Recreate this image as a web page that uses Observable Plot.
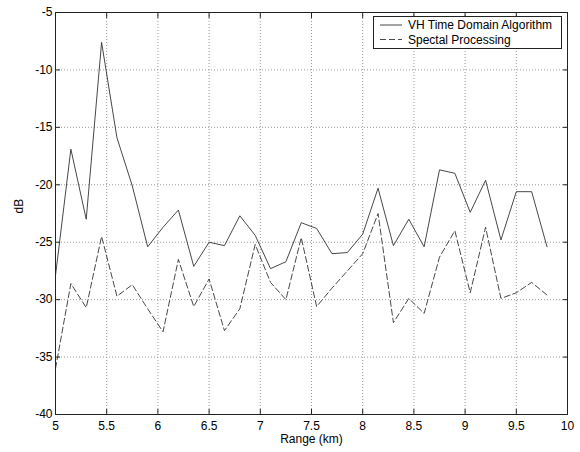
<!DOCTYPE html>
<html>
<head>
<meta charset="utf-8">
<script src="https://cdn.jsdelivr.net/npm/d3@7"></script>
<script src="https://cdn.jsdelivr.net/npm/@observablehq/plot@0.6"></script>
<style>
  html, body { margin: 0; padding: 0; background: #fff; }
  #chart svg { display: block; }
</style>
</head>
<body>
<div id="chart"></div>
<script>
const seriesNames = ["VH Time Domain Algorithm", "Spectal Processing"];
const range = [5.00, 5.15, 5.30, 5.45, 5.60, 5.75, 5.90, 6.05, 6.20, 6.35, 6.50,
               6.65, 6.80, 6.95, 7.10, 7.25, 7.40, 7.55, 7.70, 7.85, 8.00, 8.15,
               8.30, 8.45, 8.60, 8.75, 8.90, 9.05, 9.20, 9.35, 9.50, 9.65, 9.80];
const vhTimeDomain = [-27.9, -16.9, -23.0, -7.6, -15.9, -20.1, -25.4, -23.7, -22.2, -27.1, -25.0,
                      -25.3, -22.7, -24.4, -27.3, -26.7, -23.3, -23.8, -26.0, -25.9, -24.3, -20.3,
                      -25.3, -23.0, -25.4, -18.7, -19.0, -22.4, -19.6, -24.8, -20.6, -20.6, -25.4];
const spectral = [-36.0, -28.6, -30.7, -24.5, -29.7, -28.7, -30.8, -32.8, -26.5, -30.6, -28.2,
                  -32.7, -30.8, -25.2, -28.5, -30.0, -24.6, -30.6, -29.0, -27.5, -26.0, -22.5,
                  -32.0, -29.9, -31.2, -26.3, -24.0, -29.4, -23.7, -29.9, -29.4, -28.5, -29.6];
const xTicks = [5, 5.5, 6, 6.5, 7, 7.5, 8, 8.5, 9, 9.5, 10];
const yTicks = [-40, -35, -30, -25, -20, -15, -10, -5];
const xLabel = "Range (km)";
const yLabel = "dB";

const vhData = range.map((r, i) => ({range: r, db: vhTimeDomain[i]}));
const spData = range.map((r, i) => ({range: r, db: spectral[i]}));
const fmt = d => String(d);
const ink = "#222";

const plot = Plot.plot({
  width: 580,
  height: 452,
  marginLeft: 55,
  marginRight: 13,
  marginTop: 12,
  marginBottom: 38,
  style: {fontFamily: "'Liberation Sans', Arial, sans-serif", fontSize: "12px", color: "#000", background: "#fff"},
  x: {domain: [5, 10]},
  y: {domain: [-40, -5]},
  marks: [
    Plot.gridX(xTicks, {stroke: "#999", strokeOpacity: 1, strokeDasharray: "1,2"}),
    Plot.gridY(yTicks, {stroke: "#999", strokeOpacity: 1, strokeDasharray: "1,2"}),
    // inward tick marks on all four sides
    Plot.axisX(xTicks, {anchor: "bottom", tickSize: 5, dy: -5, tickFormat: () => "", label: null, stroke: ink}),
    Plot.axisX(xTicks, {anchor: "top", tickSize: 5, dy: 5, tickFormat: () => "", label: null, stroke: ink}),
    Plot.axisY(yTicks, {anchor: "left", tickSize: 5, dx: 5, tickFormat: () => "", label: null, stroke: ink}),
    Plot.axisY(yTicks, {anchor: "right", tickSize: 5, dx: -5, tickFormat: () => "", label: null, stroke: ink}),
    // tick labels
    Plot.axisX(xTicks, {anchor: "bottom", tickSize: 0, tickPadding: 7, tickFormat: fmt, label: null}),
    Plot.axisY(yTicks, {anchor: "left", tickSize: 0, tickPadding: 3, tickFormat: fmt, label: null}),
    Plot.text([xLabel], {frameAnchor: "bottom", dy: 28, text: d => d, fill: "#000"}),
    Plot.text([yLabel], {frameAnchor: "left", dx: -36, rotate: -90, text: d => d, fill: "#000"}),
    Plot.line(vhData, {x: "range", y: "db", stroke: "#333", strokeWidth: 0.9}),
    Plot.line(spData, {x: "range", y: "db", stroke: "#333", strokeWidth: 0.9, strokeDasharray: "6,3"}),
    Plot.frame({stroke: ink, strokeWidth: 1})
  ]
});
document.getElementById("chart").appendChild(plot);

// legend box inside the plot area (top-right)
const svg = d3.select(plot);
const lg = svg.append("g")
  .attr("font-family", "'Liberation Sans', Arial, sans-serif")
  .attr("font-size", 12)
  .attr("text-anchor", "start");
lg.append("rect").attr("x", 373.5).attr("y", 16.5).attr("width", 188).attr("height", 32)
  .attr("fill", "#fff").attr("stroke", ink);
const dashes = [null, "6,3"];
seriesNames.forEach((name, i) => {
  const y = 25 + i * 14.5;
  lg.append("line").attr("x1", 380).attr("x2", 402).attr("y1", y).attr("y2", y)
    .attr("stroke", "#333").attr("stroke-width", 0.9).attr("stroke-dasharray", dashes[i]);
  lg.append("text").attr("x", 408).attr("y", y).attr("dy", "0.35em")
    .attr("text-anchor", "start").attr("fill", "#000").text(name);
});
</script>
</body>
</html>
